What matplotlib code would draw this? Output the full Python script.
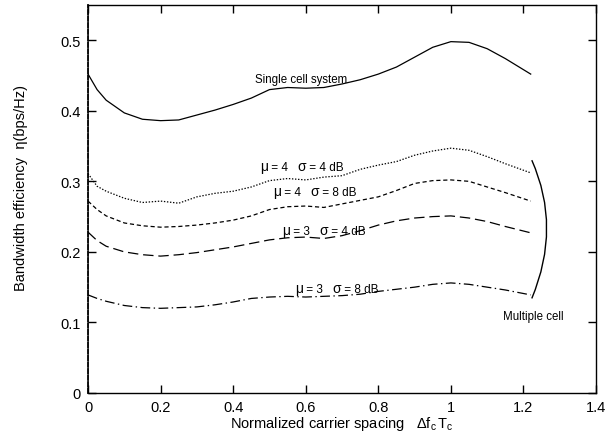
import numpy as np
import matplotlib
matplotlib.use("Agg")
import matplotlib.pyplot as plt
from matplotlib.path import Path
from matplotlib.patches import PathPatch

plt.rcParams['font.family'] = ['Liberation Sans', 'DejaVu Sans']
plt.rcParams['mathtext.fontset'] = 'custom'
plt.rcParams['mathtext.rm'] = 'Liberation Sans'
plt.rcParams['mathtext.it'] = 'Liberation Sans'
plt.rcParams['lines.scale_dashes'] = False

# normalized carrier spacing
spacing = [0, 0.025, 0.05, 0.1, 0.15, 0.2, 0.25, 0.3, 0.35, 0.4, 0.45, 0.5, 0.55,
           0.6, 0.65, 0.7, 0.75, 0.8, 0.85, 0.9, 0.95, 1.0, 1.05, 1.1, 1.15, 1.22]

# bandwidth efficiency (bps/Hz)
single_cell = [0.452, 0.430, 0.415, 0.397, 0.388, 0.386, 0.387, 0.394, 0.401, 0.409,
               0.418, 0.430, 0.433, 0.432, 0.433, 0.438, 0.444, 0.452, 0.462, 0.476,
               0.490, 0.498, 0.497, 0.488, 0.474, 0.452]
mu4_sig4 = [0.311, 0.293, 0.286, 0.276, 0.270, 0.272, 0.269, 0.278, 0.283, 0.286,
            0.292, 0.301, 0.304, 0.302, 0.306, 0.308, 0.317, 0.323, 0.328, 0.337,
            0.343, 0.347, 0.344, 0.335, 0.325, 0.312]
mu4_sig8 = [0.272, 0.260, 0.251, 0.241, 0.237, 0.235, 0.236, 0.238, 0.241, 0.245,
            0.251, 0.260, 0.264, 0.265, 0.263, 0.268, 0.273, 0.278, 0.287, 0.297,
            0.301, 0.302, 0.300, 0.292, 0.284, 0.272]
mu3_sig4 = [0.228, 0.216, 0.208, 0.200, 0.196, 0.194, 0.196, 0.199, 0.203, 0.207,
            0.212, 0.217, 0.220, 0.221, 0.219, 0.223, 0.230, 0.238, 0.244, 0.248,
            0.250, 0.251, 0.248, 0.243, 0.236, 0.227]
mu3_sig8 = [0.139, 0.134, 0.130, 0.124, 0.121, 0.120, 0.121, 0.122, 0.125, 0.129,
            0.134, 0.136, 0.137, 0.136, 0.137, 0.138, 0.140, 0.144, 0.147, 0.150,
            0.154, 0.156, 0.154, 0.150, 0.146, 0.139]

mu_vals = ["4", "4", "3", "3"]
sigma_vals = ["4", "8", "4", "8"]

fig = plt.figure(figsize=(6.13, 4.35), dpi=100)
ax = fig.add_axes([0.1436, 0.0943, 0.8287, 0.8920])

x = np.array(spacing)
ax.plot(x, single_cell, color='black', lw=0.9, ls='-')
ax.plot(x, mu4_sig4, color='black', lw=0.9, ls=(0, (1, 1.2)))
ax.plot(x, mu4_sig8, color='black', lw=0.9, ls=(0, (3, 2)))
ax.plot(x, mu3_sig4, color='black', lw=0.9, ls=(0, (7.5, 3.5)))
ax.plot(x, mu3_sig8, color='black', lw=0.9, ls=(0, (7, 2.5, 1, 2.5)))

ax.set_xlim(0, 1.4)
ax.set_ylim(0, 0.55)
ax.set_xticks(np.arange(0, 1.41, 0.2))
ax.set_xticklabels(["0", "0.2", "0.4", "0.6", "0.8", "1", "1.2", "1.4"])
ax.set_yticks(np.arange(0, 0.51, 0.1))
ax.set_yticklabels(["0", "0.1", "0.2", "0.3", "0.4", "0.5"])
ax.tick_params(which='major', direction='in', length=6, width=1, labelsize=10.5,
               top=True, right=True, pad=5)
for s in ax.spines.values():
    s.set_linewidth(1.0)

# left edge: grey rule with a dark dashed spine on top
ax.axvline(0, color='0.6', lw=1.3, zorder=1)
ax.spines['left'].set_linestyle((0, (3.2, 1.5)))
ax.spines['left'].set_linewidth(1.3)

ax.set_xlabel(r"Normalized carrier spacing   $\Delta\mathrm{f_c\,T_c}$", fontsize=10.5,
              labelpad=0)
ax.set_ylabel("Bandwidth efficiency  η(bps/Hz)", fontsize=10.5)
ax.yaxis.set_label_coords(-0.118, 0.53)

# curve annotations
ax.text(0.460, 0.445, "Single cell system", fontsize=8.3, va='center', ha='left')
label_pos = [(0.474, 0.3158), (0.510, 0.2803), (0.535, 0.226), (0.570, 0.143)]
for (lx, ly), mu, sig in zip(label_pos, mu_vals, sigma_vals):
    t = ax.text(lx, ly, "μ", fontsize=10, va='baseline', ha='left')
    t = ax.annotate(" = " + mu + "   ", xy=(1, ly), xycoords=(t, 'data'),
                    va='baseline', fontsize=8.5)
    t = ax.annotate("σ", xy=(1, ly), xycoords=(t, 'data'), va='baseline', fontsize=10)
    ax.annotate(" = " + sig + " dB", xy=(1, ly), xycoords=(t, 'data'),
                va='baseline', fontsize=8.5)

# bracket grouping the multi-cell curves
verts = [(1.223, 0.330), (1.305, 0.235), (1.223, 0.134)]
bracket = Path(verts, [Path.MOVETO, Path.CURVE3, Path.CURVE3])
ax.add_patch(PathPatch(bracket, facecolor='none', edgecolor='black', lw=1.0))
ax.text(1.143, 0.109, "Multiple cell", fontsize=8.3, va='center', ha='left')

fig.savefig("out.png", dpi=100)
